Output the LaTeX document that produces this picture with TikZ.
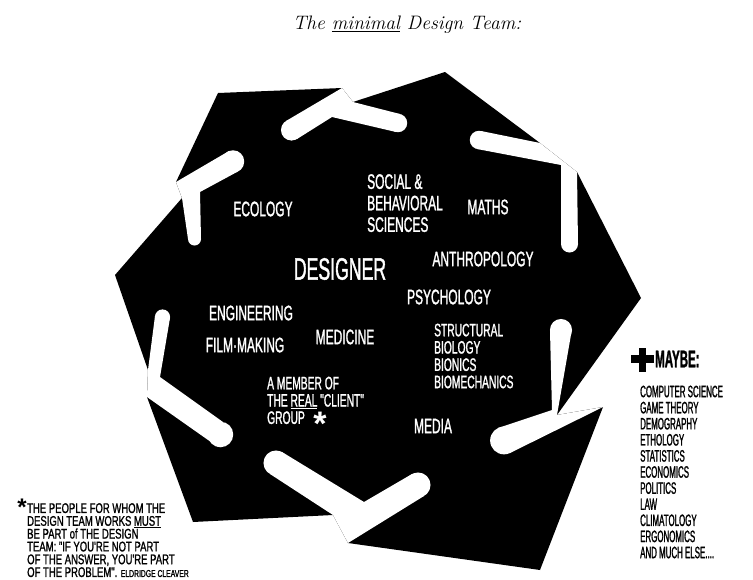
\documentclass[tikz,border=0pt]{standalone}
\usepackage{fontspec}
\newfontfamily\hand{Liberation Sans}[FakeStretch=0.57, FakeBold=1.2]
\newfontfamily\handn{Liberation Sans}[FakeStretch=0.48, FakeBold=1.2]
\newfontfamily\handw{Liberation Sans}[FakeStretch=0.68, FakeBold=1.2]
\newfontfamily\handb{Liberation Sans}
\usetikzlibrary{calc,positioning}

% white notch between two pieces: tip, arm end, arm end, inner corner, arm end, arm end, tip
\newcommand\notch[7]{%
  \fill[white] #1 -- #7 -- #6 -- #5 -- #4 -- #3 -- #2 -- cycle;
  \path[fill=white] let \p1=($#2-#3$), \n1={veclen(\x1,\y1)/2} in ($#2!0.5!#3$) circle[radius=\n1];
  \path[fill=white] let \p1=($#6-#5$), \n1={veclen(\x1,\y1)/2} in ($#6!0.5!#5$) circle[radius=\n1];
}

\begin{document}
\begin{tikzpicture}[x=1pt, y=-1pt,
  piece/.style={fill=black},
  lab/.style={inner sep=0pt, text=white, font=\hand\fontsize{21}{21.5}\selectfont},
  sublab/.style={lab, align=left, anchor=north west, font=\hand\fontsize{18}{17.3}\selectfont},
  extra/.style={inner sep=0pt, align=left, font=\handn\fontsize{16.5}{16.1}\selectfont},
  note/.style={inner sep=0pt, align=left, font=\handw\fontsize{14}{12.8}\selectfont},
]
  \useasboundingbox (0,0) rectangle (753,579);

  % title
  \node[font=\itshape\fontsize{19.5}{19.5}\selectfont] (title) at (407,25)
    {The \underline{minimal} Design Team:};

  % the six pieces, one black outline
  \fill[piece] (176,182) -- (218,93) -- (342,88) -- (353,102) -- (445,72)
    -- (540,143) -- (577,172) -- (641,298) -- (557,415) -- (603,407)
    -- (540,570) -- (348,543) -- (333,515) -- (193,522) -- (147,397)
    -- (148,370) -- (115,275) -- (182,198) -- cycle;

  % notches between the pieces
  \notch{(342,88)}{(286,121)}{(297,139)}{(332,117)}{(396,132)}{(400,114)}{(353,102)}
  \notch{(540,143)}{(481,131)}{(477,149)}{(561,165)}{(561,244)}{(578,244)}{(577,172)}
  \notch{(557,415)}{(572,329)}{(550,331)}{(552,410)}{(498,428)}{(510,453)}{(603,407)}
  \notch{(333,515)}{(270,474)}{(282,452)}{(364,502)}{(412,474)}{(424,496)}{(348,543)}
  \notch{(148,370)}{(155,316)}{(170,318)}{(160,377)}{(223,422)}{(218,447)}{(147,397)}
  \notch{(176,182)}{(229,151)}{(237,172)}{(200,192)}{(201,239)}{(188,239)}{(182,198)}

  % the team
  \node[lab] (eco) at (263,209) {ECOLOGY};
  \node[sublab, font=\hand\fontsize{21}{21.5}\selectfont] (soc) at (367,174)
    {SOCIAL \&\\BEHAVIORAL\\SCIENCES};
  \node[lab] (maths) at (488,207) {MATHS};
  \node[lab, font=\hand\fontsize{31}{31}\selectfont] (des) at (340,269) {DESIGNER};
  \node[lab] (anth) at (483,259) {ANTHROPOLOGY};
  \node[lab] (psy) at (449,297) {PSYCHOLOGY};
  \node[lab] (eng) at (251,313) {ENGINEERING};
  \node[lab] (film) at (245,345) {FILM·MAKING};
  \node[lab] (med) at (345,337) {MEDICINE};
  \node[sublab] (bio) at (434,323.5)
    {STRUCTURAL\\BIOLOGY\\BIONICS\\BIOMECHANICS};
  \node[sublab] (client) at (267,376.5)
    {A MEMBER OF\\THE \underline{REAL} "CLIENT"\\GROUP\ \ \ {\handb\bfseries\fontsize{34}{17}\selectfont\raisebox{-11.5pt}{*}}};
  \node[lab] (media) at (433,426) {MEDIA};

  % maybe
  \fill (631,355) rectangle (654,363);
  \fill (639,348) rectangle (646,372);
  \node[inner sep=0pt, anchor=west, font=\handn\bfseries\fontsize{24}{24}\selectfont]
    (maybe) at (655,359) {MAYBE:};
  \node[extra, below=18pt of maybe.south west, anchor=north west, xshift=-15pt] (more)
    {COMPUTER SCIENCE\\GAME THEORY\\DEMOGRAPHY\\ETHOLOGY\\STATISTICS\\ECONOMICS\\
     POLITICS\\LAW\\CLIMATOLOGY\\ERGONOMICS\\AND MUCH ELSE....};

  % footnote
  \node[anchor=north east, inner sep=0pt, font=\handb\bfseries\fontsize{24}{24}\selectfont]
    (star) at (27,499) {*};
  \node[note, anchor=north west] (foot) at (27,503)
    {THE PEOPLE FOR WHOM THE\\DESIGN TEAM WORKS \underline{MUST}\\BE PART of THE DESIGN\\
     TEAM: "IF YOU'RE NOT PART\\OF THE ANSWER, YOU'RE PART\\
     OF THE PROBLEM". {\fontsize{10}{12.8}\selectfont ELDRIDGE CLEAVER}};
\end{tikzpicture}
\end{document}
